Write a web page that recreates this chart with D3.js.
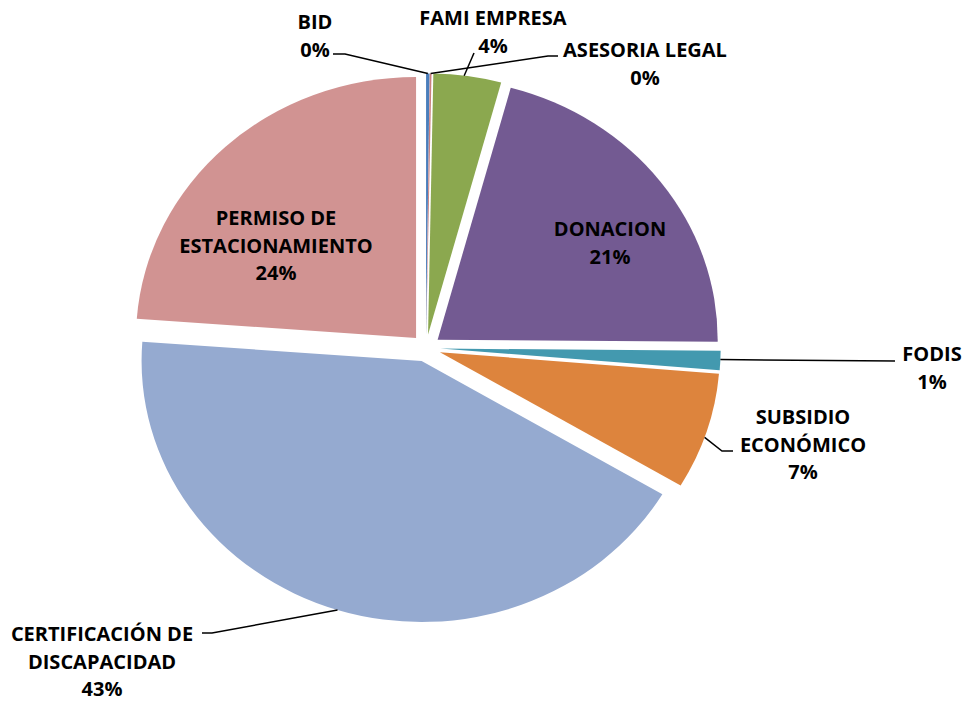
<!DOCTYPE html>
<html><head><meta charset="utf-8">
<script src="https://cdn.jsdelivr.net/npm/d3@7"></script>
<style>body{margin:0;background:#fff;} svg{display:block;}</style>
</head><body>
<svg id="c" width="966" height="701"></svg>
<script>
const categories = ["BID","ASESORIA LEGAL","FAMI EMPRESA","DONACION","FODIS","SUBSIDIO ECONÓMICO","CERTIFICACIÓN DE DISCAPACIDAD","PERMISO DE ESTACIONAMIENTO"];
const values = [0.2, 0.1, 3.9, 20.9, 1.2, 7.2, 42.6, 23.8];
const pctLabels = ["0%","0%","4%","21%","1%","7%","43%","24%"];
const colors = ["#4A7EBB","#C9807E","#8BA84F","#735A92","#4399AF","#DD843D","#95AAD0","#D19392"];
const labelLines = [["BID"],["ASESORIA LEGAL"],["FAMI EMPRESA"],["DONACION"],["FODIS"],["SUBSIDIO","ECONÓMICO"],["CERTIFICACIÓN DE","DISCAPACIDAD"],["PERMISO DE","ESTACIONAMIENTO"]];

const svg = d3.select("#c");
const cx = 426, cy = 348, R = 261, sx = 1.073, explode = 13.6;

const pie = d3.pie().sort(null).value(d => d)(values);
const arc = d3.arc().innerRadius(0).outerRadius(R);

const g = svg.append("g").attr("transform", `translate(${cx},${cy}) scale(${sx},1)`);
g.selectAll("path").data(pie).join("path")
  .attr("d", arc)
  .attr("fill", (d,i) => colors[i])
  .attr("transform", d => {
    const a = (d.startAngle + d.endAngle) / 2;
    return `translate(${explode*Math.sin(a)},${-explode*Math.cos(a)})`;
  });

function pt(i, r, frac) {
  const d = pie[i];
  const a = d.startAngle + (d.endAngle - d.startAngle) * frac;
  const m = (d.startAngle + d.endAngle) / 2;
  return [cx + sx*(explode*Math.sin(m) + r*Math.sin(a)), cy - explode*Math.cos(m) - r*Math.cos(a)];
}

const fs = 20, lh = 27.7;
const labels = [
  {i:0, x:315, y:29, lead:[[333,54],[345,54],pt(0,R,0.5)]},
  {i:2, x:493, y:25, lead:[[474,53],pt(2,R,0.45)]},
  {i:1, x:645, y:57, lead:[[558,56],[548,56],pt(1,R,0.5)]},
  {i:3, x:610, y:236, lead:null},
  {i:4, x:932, y:361, lead:[[895,361],pt(4,R,0.45)]},
  {i:5, x:803, y:424, lead:[[733,451],[722,451],pt(5,R,0.55)]},
  {i:6, x:102, y:641, lead:[[202,633],[212,633],pt(6,R,0.5)]},
  {i:7, x:276, y:225, lead:null}
];

const line = d3.line();
labels.forEach(L => {
  if (L.lead) {
    svg.append("path").attr("d", line(L.lead)).attr("fill","none")
      .attr("stroke","#000").attr("stroke-width",1.5);
  }
  const lines = labelLines[L.i].concat([pctLabels[L.i]]);
  const t = svg.append("text").attr("text-anchor","middle")
    .attr("font-family","'Open Sans', Lato, sans-serif").attr("font-weight","bold")
    .attr("font-size",fs).attr("fill","#000");
  lines.forEach((s,k) => t.append("tspan").attr("x",L.x).attr("y",L.y + k*lh).text(s));
});
</script>
</body></html>
